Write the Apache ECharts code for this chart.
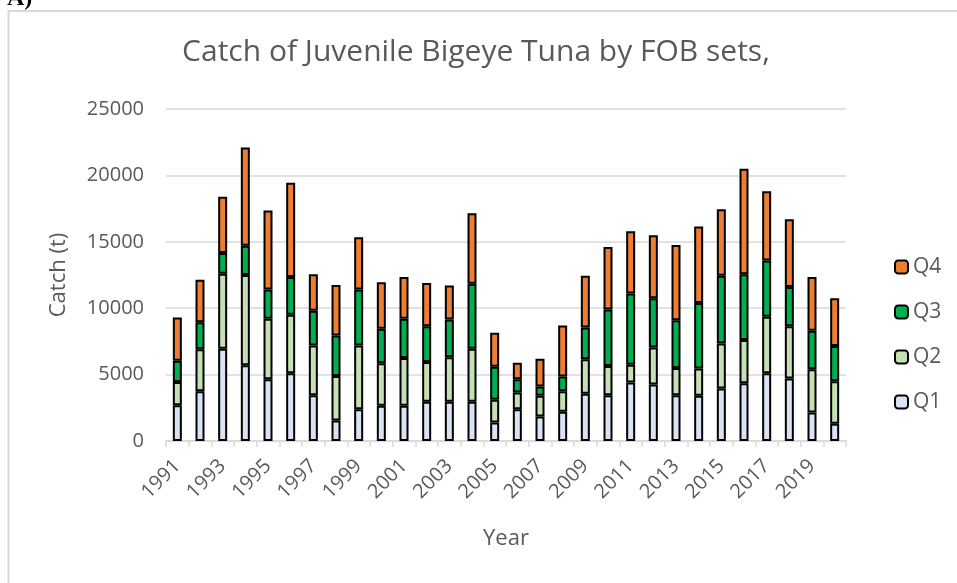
<!DOCTYPE html>
<html>
<head>
<meta charset="utf-8">
<script src="https://cdn.jsdelivr.net/npm/echarts@6/dist/echarts.min.js"></script>
<style>
html,body{margin:0;padding:0;background:#fff;}
#chart{width:957px;height:583px;}
</style>
</head>
<body>
<div id="chart"></div>
<script>
const years = ['1991','1992','1993','1994','1995','1996','1997','1998','1999','2000',
  '2001','2002','2003','2004','2005','2006','2007','2008','2009','2010',
  '2011','2012','2013','2014','2015','2016','2017','2018','2019','2020'];
const q1 = [2700,3750,6950,5700,4650,5100,3450,1550,2400,2650,
  2650,2950,2950,2950,1400,2400,1850,2200,3550,3450,
  4400,4250,3450,3400,3950,4350,5100,4700,2150,1300];
const q2 = [1750,3150,5650,6800,4550,4400,3750,3350,4800,3200,
  3600,3000,3350,4000,1700,1250,1550,1550,2600,2200,
  1350,2800,2050,2050,3400,3250,4250,3950,3250,3200];
const q3 = [1600,2050,1550,2200,2200,2850,2600,3050,4200,2600,
  2950,2700,2850,4900,2500,1000,700,1100,2400,4250,
  5350,3700,3600,4950,5100,4950,4250,2950,2900,2650];
const q4 = [3250,3200,4250,7400,5950,7100,2750,3800,3950,3500,
  3150,3250,2550,5300,2550,1250,2100,3850,3900,4700,
  4700,4750,5650,5750,5000,7950,5200,5100,4050,3600];
const yTicks = [0,5000,10000,15000,20000,25000];

const FONT = 'Open Sans';
const GRAY = '#595959';
const chart = echarts.init(document.getElementById('chart'));
function ser(name, data, color){
  return {
    name: name, type: 'bar', stack: 'total', data: data, barWidth: 9,
    itemStyle: {color: color, borderColor: '#000', borderWidth: 2},
    emphasis: {disabled: true}
  };
}
chart.setOption({
  animation: false,
  backgroundColor: '#fff',
  graphic: [
    {type: 'rect', shape: {x: 8.5, y: 11, width: 1200, height: 1000},
     style: {fill: 'none', stroke: '#d9d9d9', lineWidth: 2}, silent: true},
    {type: 'text', left: 7, top: -13,
     style: {text: 'A)', font: 'bold 24px "Liberation Serif"', fill: '#000'}}
  ],
  title: {
    text: 'Catch of Juvenile Bigeye Tuna by FOB sets,',
    left: 471, top: 32,
    textStyle: {fontFamily: FONT, fontSize: 30, fontWeight: 'normal', color: GRAY},
    textAlign: 'center'
  },
  legend: {
    orient: 'vertical', left: 894, top: 256, padding: 0,
    data: ['Q4','Q3','Q2','Q1'],
    itemWidth: 13, itemHeight: 13, itemGap: 23,
    textStyle: {fontFamily: FONT, fontSize: 21, color: GRAY, lineHeight: 22},
    selectedMode: false
  },
  grid: {left: 166, right: 111, top: 109, bottom: 142},
  xAxis: {
    type: 'category', data: years,
    name: 'Year', nameLocation: 'middle', nameGap: 87,
    nameTextStyle: {fontFamily: FONT, fontSize: 22, color: GRAY},
    axisLine: {lineStyle: {color: '#d9d9d9', width: 1.5}},
    axisTick: {show: true, alignWithLabel: false, interval: 0, length: 6, lineStyle: {color: '#d9d9d9', width: 1.5}},
    axisLabel: {interval: 1, rotate: 45, margin: 22, fontFamily: FONT, fontSize: 20, color: GRAY}
  },
  yAxis: {
    type: 'value', min: yTicks[0], max: yTicks[yTicks.length-1], interval: 5000,
    name: 'Catch (t)', nameLocation: 'middle', nameGap: 96,
    nameTextStyle: {fontFamily: FONT, fontSize: 22, color: GRAY},
    axisLine: {show: false}, axisTick: {show: false},
    splitLine: {lineStyle: {color: '#d9d9d9', width: 1.5}},
    axisLabel: {margin: 22, fontFamily: FONT, fontSize: 20, color: GRAY,
      formatter: function(v){ return String(v); }}
  },
  series: [
    ser('Q1', q1, '#dae3f3'),
    ser('Q2', q2, '#c5e0b4'),
    ser('Q3', q3, '#00b050'),
    ser('Q4', q4, '#ed7d31')
  ]
});
</script>
</body>
</html>
